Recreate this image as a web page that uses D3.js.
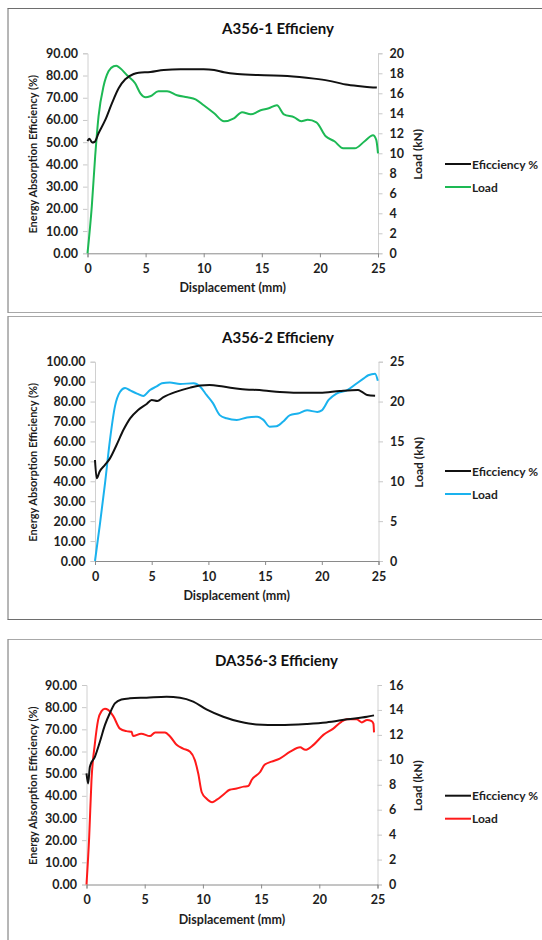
<!DOCTYPE html>
<html>
<head>
<meta charset="utf-8">
<script src="https://cdn.jsdelivr.net/npm/d3@7"></script>
<style>
  html, body { margin: 0; padding: 0; background: #fff; }
  svg { display: block; }
  text { font-family: Lato, "Open Sans", "DejaVu Sans", sans-serif; }
</style>
</head>
<body>
<svg id="chart" width="542" height="940"></svg>
<script>
// ---- A356-1 ----
const a1EffX  = [0, 0.15, 0.4, 0.6, 0.95, 1.53, 2.1, 2.68, 3.25, 3.97, 4.4, 5.41, 6.57, 8.0, 10.0, 10.9, 11.75, 12.9, 15.2, 17.2, 19.5, 20.7, 22.4, 23.85, 24.9];
const a1Eff   = [50.5, 51.6, 49.9, 50.1, 54, 60, 67.5, 74.3, 78.3, 80.7, 81.3, 81.6, 82.5, 82.8, 82.8, 82.5, 81.5, 80.7, 80.1, 79.8, 78.6, 77.7, 75.8, 75.0, 74.6];
const a1LoadX = [0, 0.37, 0.66, 0.95, 1.38, 1.81, 2.25, 2.48, 2.82, 3.4, 4.1, 4.55, 5.0, 5.4, 6.1, 6.85, 7.7, 8.6, 9.3, 10.0, 10.9, 11.75, 12.6, 13.3, 14.05, 14.9, 15.6, 16.3, 16.9, 17.8, 18.4, 18.95, 19.7, 20.5, 21.25, 22.0, 23.0, 23.85, 24.57, 24.85, 25.0];
const a1Load  = [0, 4.7, 9.7, 13.7, 16.7, 18.2, 18.7, 18.75, 18.5, 17.8, 17.0, 16.0, 15.6, 15.7, 16.2, 16.2, 15.8, 15.6, 15.4, 14.8, 14.0, 13.2, 13.5, 14.1, 13.9, 14.3, 14.5, 14.8, 13.9, 13.6, 13.2, 13.35, 13.1, 11.7, 11.2, 10.5, 10.5, 11.2, 11.8, 11.35, 10.0];

// ---- A356-2 ----
const a2EffX  = [0, 0.15, 0.4, 0.88, 1.32, 1.9, 2.5, 3.1, 3.8, 4.56, 5.0, 5.5, 6.0, 7.2, 8.4, 9.26, 10.1, 11.3, 12.8, 14.85, 16.3, 17.8, 19.85, 21.6, 23.2, 23.5, 24.0, 24.7];
const a2Eff   = [50.7, 41.5, 44.8, 48.2, 51.5, 58.2, 65.7, 71.6, 75.8, 78.8, 80.8, 80.3, 82.1, 85.0, 87.0, 88.0, 88.3, 87.5, 86.3, 85.6, 84.8, 84.4, 84.4, 85.3, 85.8, 85.0, 83.3, 82.9];
const a2LoadX = [0, 0.44, 0.88, 1.32, 1.76, 2.2, 2.65, 3.1, 3.7, 4.26, 4.85, 5.44, 5.9, 6.6, 7.5, 8.7, 9.26, 9.85, 10.4, 11.0, 11.6, 12.5, 13.4, 14.3, 14.85, 15.4, 16.0, 16.6, 17.2, 17.9, 18.7, 19.6, 20.0, 20.6, 21.3, 22.2, 23.1, 23.7, 24.1, 24.7, 24.94];
const a2Load  = [0, 4.7, 9.7, 15.2, 19.4, 21.2, 21.7, 21.4, 21.0, 20.7, 21.45, 21.9, 22.3, 22.4, 22.2, 22.3, 21.9, 20.8, 19.8, 18.3, 17.9, 17.7, 18.0, 18.1, 17.7, 16.85, 16.9, 17.5, 18.3, 18.5, 18.9, 18.7, 18.9, 20.2, 21.0, 21.4, 22.3, 22.9, 23.3, 23.5, 22.6];

// ---- DA356-3 ----
const a3EffX  = [0, 0.14, 0.29, 0.72, 1.15, 1.58, 2.0, 2.44, 3.0, 3.73, 5.16, 6.88, 8.03, 9.17, 10.3, 11.75, 13.2, 14.6, 16.6, 18.9, 20.6, 22.4, 24.1, 24.7];
const a3Eff   = [50.1, 45.6, 53.1, 57.6, 64.4, 71.9, 77.2, 81.7, 83.5, 84.0, 84.3, 84.7, 84.3, 82.5, 79.0, 75.7, 73.4, 72.2, 71.9, 72.4, 73.1, 74.5, 75.7, 76.3];
const a3LoadX = [0, 0.23, 0.43, 0.72, 1.0, 1.29, 1.58, 1.86, 2.3, 2.87, 3.44, 3.87, 4.0, 4.7, 5.45, 5.9, 6.74, 7.2, 7.74, 8.3, 8.9, 9.3, 9.6, 9.9, 10.3, 10.8, 11.2, 11.75, 12.3, 12.9, 13.5, 13.9, 14.2, 14.9, 15.3, 15.9, 16.6, 17.5, 18.35, 18.8, 19.5, 20.35, 21.2, 21.9, 22.36, 23.2, 23.65, 24.1, 24.5, 24.65, 24.7];
const a3Load  = [0, 3.8, 8.4, 11.3, 13.2, 13.9, 14.1, 14.0, 13.5, 12.5, 12.3, 12.25, 11.9, 12.1, 11.9, 12.2, 12.2, 11.85, 11.2, 10.9, 10.65, 10.0, 8.9, 7.4, 6.9, 6.6, 6.8, 7.2, 7.6, 7.7, 7.85, 7.9, 8.4, 9.0, 9.6, 9.85, 10.1, 10.65, 11.0, 10.8, 11.2, 12.0, 12.5, 13.05, 13.25, 13.25, 13.0, 13.2, 13.1, 12.9, 12.2];

// ---- shared labels and ticks ----
const titles      = ["A356-1 Efficieny", "A356-2 Efficieny", "DA356-3 Efficieny"];
const xTicks      = [0, 5, 10, 15, 20, 25];
const leftMax     = [90, 100, 90];
const rightMax    = [20, 25, 16];
const rightStep   = [2, 5, 2];
const loadColors  = ["#1db954", "#1ab2ee", "#ff1a1a"];
const seriesNames = ["Eficciency %", "Load"];
const xTitle      = "Displacement (mm)";
const yTitle      = "Energy Absorption Efficiency (%)";
const y2Title     = "Load (kN)";

const effX  = [a1EffX, a2EffX, a3EffX];
const effY  = [a1Eff, a2Eff, a3Eff];
const loadX = [a1LoadX, a2LoadX, a3LoadX];
const loadY = [a1Load, a2Load, a3Load];

// panel frames (left, top, bottom edges with their stroke colours) and plot rectangles
const DARK = "#6e6e6e", LIGHT = "#a8a8a8";
const panels = [
  { top: 8.5,   bottom: 312.5, topC: DARK,  botC: LIGHT, plot: { l: 87.5, r: 378,   t: 53.3,  b: 253.3 }, titleX: 278,   legY: 164 },
  { top: 316.5, bottom: 619.5, topC: LIGHT, botC: DARK,  plot: { l: 95,   r: 378.5, t: 361.7, b: 561 },   titleX: 278,   legY: 471 },
  { top: 639.5, bottom: 960,   topC: LIGHT, botC: DARK,  plot: { l: 86.5, r: 377.5, t: 685,   b: 884.5 }, titleX: 276.5, legY: 795.7 }
];

const svg = d3.select("#chart");
const TXT = "#1e1e1e";

panels.forEach((p, i) => {
  const g = svg.append("g");
  g.append("line").attr("x1", 7.5).attr("x2", 560).attr("y1", p.top).attr("y2", p.top)
    .attr("stroke", p.topC).attr("stroke-width", 1);
  g.append("line").attr("x1", 7.5).attr("x2", 560).attr("y1", p.bottom).attr("y2", p.bottom)
    .attr("stroke", p.botC).attr("stroke-width", 1);
  g.append("line").attr("x1", 8).attr("x2", 8).attr("y1", p.top).attr("y2", p.bottom)
    .attr("stroke", DARK).attr("stroke-width", 1);

  const { l, r, t, b } = p.plot;
  const x  = d3.scaleLinear().domain([0, 25]).range([l, r]);
  const yL = d3.scaleLinear().domain([0, leftMax[i]]).range([b, t]);
  const yR = d3.scaleLinear().domain([0, rightMax[i]]).range([b, t]);

  // left axis
  const leftAxis = d3.axisLeft(yL)
    .tickValues(d3.range(0, leftMax[i] + 1, 10))
    .tickFormat(d3.format(".2f"))
    .tickSizeOuter(0).tickSize(4.5).tickPadding(5);
  const ga = g.append("g").attr("transform", `translate(${l},0)`).call(leftAxis);

  // right axis
  const rightAxis = d3.axisRight(yR)
    .tickValues(d3.range(0, rightMax[i] + 1, rightStep[i]))
    .tickFormat(d3.format("d"))
    .tickSizeOuter(0).tickSize(4.5).tickPadding(7);
  const gr = g.append("g").attr("transform", `translate(${r},0)`).call(rightAxis);

  [ga, gr].forEach(a => {
    a.select(".domain").attr("stroke", "#d0d0d0").attr("stroke-width", 1);
    a.selectAll(".tick line").attr("stroke", "#c8c8c8");
    a.selectAll(".tick text")
      .attr("fill", TXT).attr("font-size", 12.5).attr("font-weight", 700);
  });

  // bottom axis
  const bottomAxis = d3.axisBottom(x)
    .tickValues(xTicks).tickFormat(d3.format("d"))
    .tickSizeOuter(0).tickSize(4).tickPadding(7);
  const gb = g.append("g").attr("transform", `translate(0,${b})`).call(bottomAxis);
  gb.select(".domain").attr("stroke", "#8a8a8a").attr("stroke-width", 1);
  gb.selectAll(".tick line").attr("stroke", "#8a8a8a");
  gb.selectAll(".tick text")
    .attr("fill", TXT).attr("font-size", 12.5).attr("font-weight", 700);

  // title
  g.append("text")
    .attr("x", p.titleX).attr("y", t - 19)
    .attr("text-anchor", "middle")
    .attr("font-size", 15).attr("font-weight", 700).attr("fill", "#111")
    .text(titles[i]);

  // axis titles
  const midY = (t + b) / 2 + 1;
  g.append("text")
    .attr("transform", `translate(${37},${midY}) rotate(-90)`)
    .attr("text-anchor", "middle")
    .attr("font-size", 11).attr("font-weight", 700).attr("fill", TXT)
    .text(yTitle);
  g.append("text")
    .attr("transform", `translate(${r + 44},${midY}) rotate(-90)`)
    .attr("text-anchor", "middle")
    .attr("font-size", 12).attr("font-weight", 700).attr("fill", TXT)
    .text(y2Title);
  g.append("text")
    .attr("x", (l + r) / 2).attr("y", b + 39)
    .attr("text-anchor", "middle")
    .attr("font-size", 12.5).attr("font-weight", 700).attr("fill", TXT)
    .text(xTitle);

  // series lines
  const line = (xs, ys, yScale) => d3.line()
    .x(d => x(d[0])).y(d => yScale(d[1]))
    .curve(d3.curveMonotoneX)(d3.zip(xs, ys));

  g.append("path")
    .attr("d", line(loadX[i], loadY[i], yR))
    .attr("fill", "none").attr("stroke", loadColors[i])
    .attr("stroke-width", 2).attr("stroke-linejoin", "round");

  g.append("path")
    .attr("d", line(effX[i], effY[i], yL))
    .attr("fill", "none").attr("stroke", "#111")
    .attr("stroke-width", 2).attr("stroke-linejoin", "round");

  // legend
  const legColors = ["#111", loadColors[i]];
  seriesNames.forEach((name, k) => {
    const ly = p.legY + k * 23;
    g.append("line")
      .attr("x1", 445).attr("x2", 471).attr("y1", ly).attr("y2", ly)
      .attr("stroke", legColors[k]).attr("stroke-width", 2);
    g.append("text")
      .attr("x", 472).attr("y", ly + 4.5)
      .attr("font-size", 12).attr("font-weight", 700).attr("fill", TXT)
      .text(name);
  });
});
</script>
</body>
</html>
